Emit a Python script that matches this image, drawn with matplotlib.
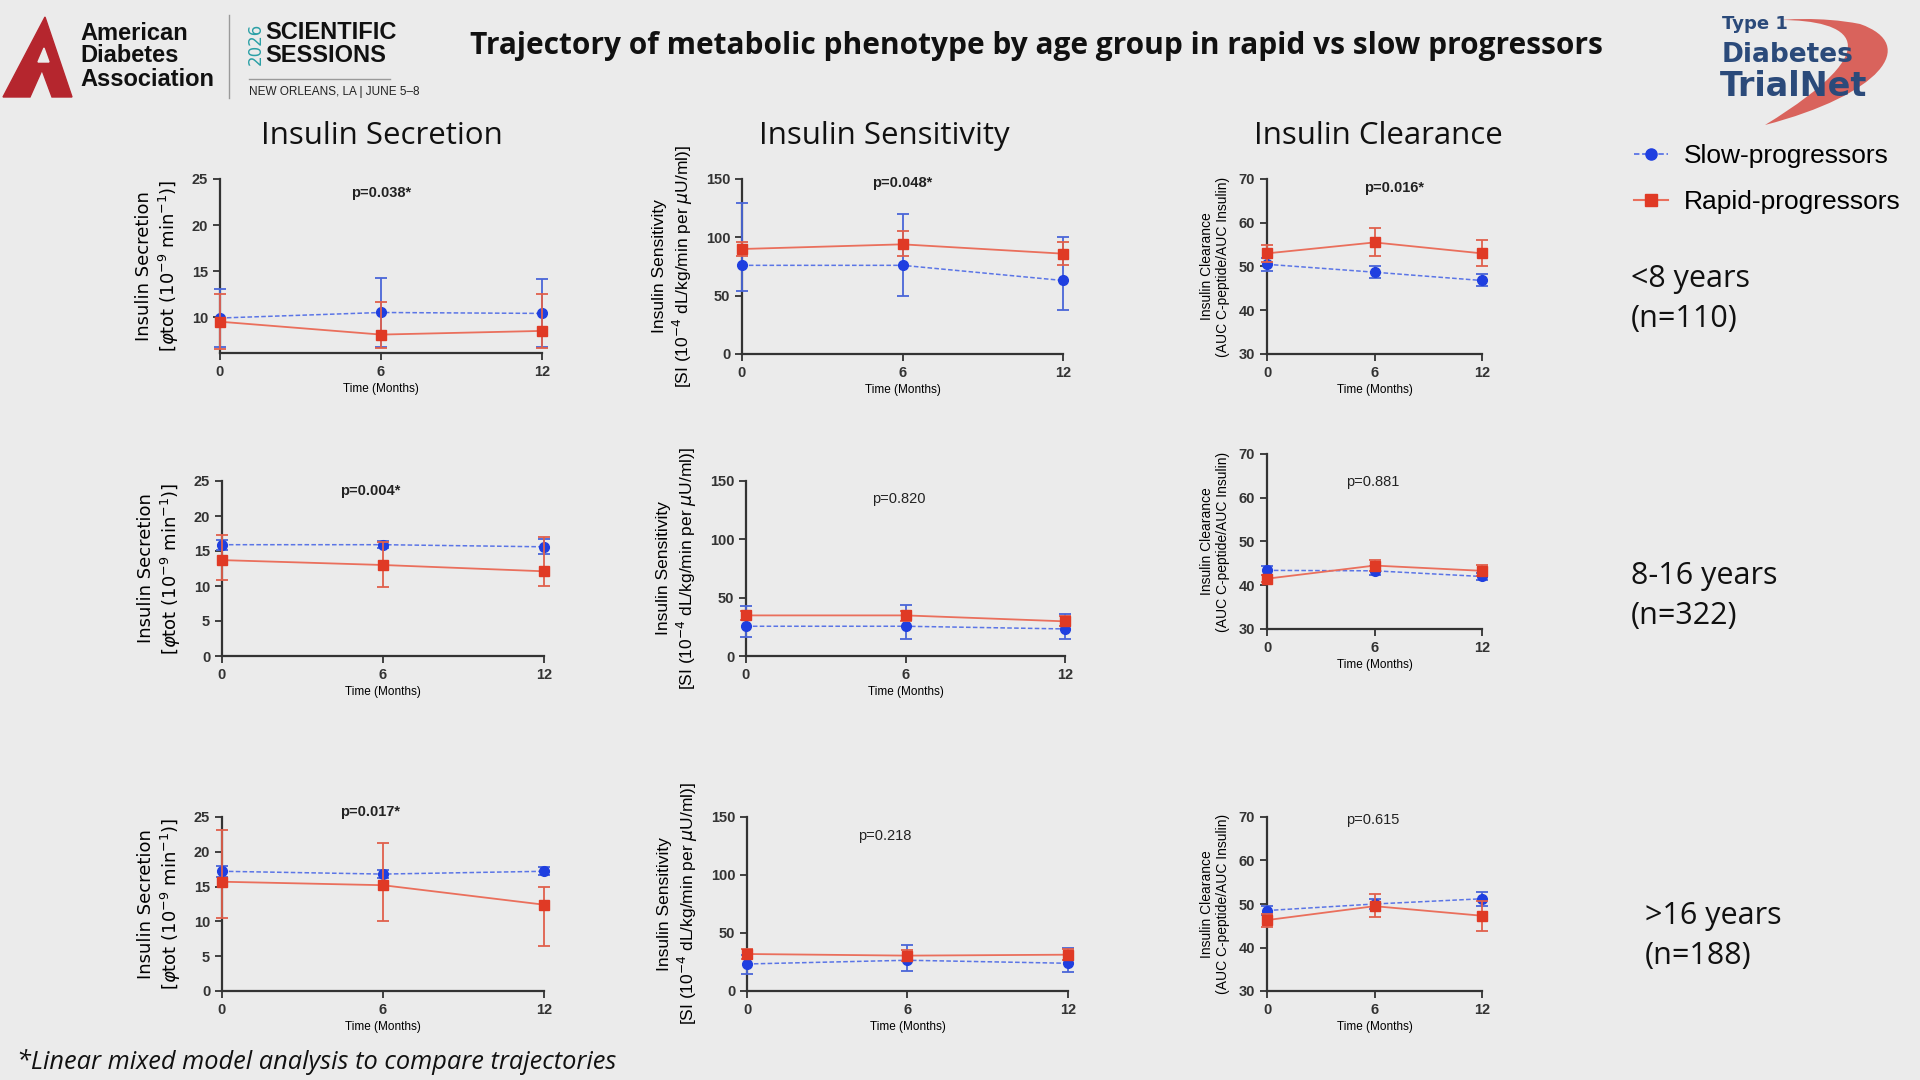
import matplotlib.pyplot as plt
from matplotlib.patches import Polygon, PathPatch
from matplotlib.path import Path
from matplotlib.lines import Line2D

# ---- data (mean, lower / upper error bar ends) ----
times = [0, 6, 12]
age_groups = ['<8 years\n(n=110)', '8-16 years\n(n=322)', '>16 years\n(n=188)']
measures = ['Insulin Secretion', 'Insulin Sensitivity', 'Insulin Clearance']

sec_slow = [[9.9, 10.5, 10.4], [15.9, 15.9, 15.6], [17.2, 16.8, 17.2]]
sec_slow_lo = [[6.8, 6.8, 6.8], [15.2, 15.4, 14.6], [16.4, 16.2, 16.6]]
sec_slow_hi = [[13.0, 14.3, 14.1], [16.6, 16.4, 16.7], [17.9, 17.4, 17.8]]
sec_rapid = [[9.5, 8.1, 8.5], [13.7, 13.0, 12.1], [15.7, 15.2, 12.4]]
sec_rapid_lo = [[6.5, 6.6, 6.6], [10.8, 9.8, 10.0], [10.5, 10.0, 6.5]]
sec_rapid_hi = [[12.5, 11.6, 12.5], [17.3, 16.3, 17.0], [23.2, 21.2, 15.0]]

sens_slow = [[76, 76, 63], [25.5, 25.5, 23.2], [23.3, 26.5, 23.9]]
sens_slow_lo = [[54, 50, 38], [16.4, 15, 15], [15, 17, 16]]
sens_slow_hi = [[129, 120, 100], [42.5, 44, 36], [31, 39.8, 37]]
sens_rapid = [[90, 94, 86], [34.8, 34.8, 29.7], [31.9, 30.5, 31.3]]
sens_rapid_lo = [[84, 84, 76], [31, 30, 26], [28, 26, 27]]
sens_rapid_hi = [[96, 105, 96], [39, 39, 34], [36, 35, 36]]

clr_slow = [[50.5, 48.7, 46.8], [43.4, 43.3, 42.0], [48.5, 50.0, 51.2]]
clr_slow_lo = [[49.0, 47.3, 45.5], [42.4, 42.3, 41.2], [47.5, 48.8, 49.6]]
clr_slow_hi = [[52.0, 50.1, 48.2], [44.4, 44.3, 42.8], [49.5, 51.2, 52.8]]
clr_rapid = [[53.0, 55.5, 53.0], [41.5, 44.5, 43.3], [46.3, 49.5, 47.3]]
clr_rapid_lo = [[51.0, 52.3, 50.0], [40.7, 43.3, 42.0], [44.8, 47.0, 43.8]]
clr_rapid_hi = [[55.0, 58.7, 56.0], [42.3, 45.7, 44.6], [47.8, 52.4, 50.8]]

pvals = [['p=0.038*', 'p=0.048*', 'p=0.016*'],
         ['p=0.004*', 'p=0.820', 'p=0.881'],
         ['p=0.017*', 'p=0.218', 'p=0.615']]

BG = '#ebebeb'
BLUE = '#1f3fe0'
RED = '#e03a25'
NARROW = ['Liberation Sans Narrow', 'Liberation Sans', 'DejaVu Sans']

fig = plt.figure(figsize=(19.2, 10.8), dpi=100, facecolor=BG)

# decoration layer in pixel coordinates
deco = fig.add_axes([0, 0, 1, 1])
deco.set_xlim(0, 1920)
deco.set_ylim(1080, 0)
deco.axis('off')

# ADA logo (approximation)
deco.add_patch(Polygon([(3, 97), (45, 17), (72, 97), (52, 97), (42, 70), (30, 97)],
                       closed=True, color='#b5262e'))
deco.add_patch(Polygon([(38, 62), (44, 48), (49, 62)], closed=True, color=BG))
deco.text(80, 56, 'American\nDiabetes\nAssociation', family=NARROW, weight='bold',
          fontsize=17, va='center', ha='left', linespacing=1.0, color='#111111')
deco.plot([229, 229], [15, 98], color='#9a9a9a', lw=1)
deco.text(256, 44, '2026', rotation=90, color='#2ba0a6', fontsize=12,
          ha='center', va='center', family='DejaVu Sans')
deco.text(265, 44, 'SCIENTIFIC\nSESSIONS', family=NARROW, weight='bold',
          fontsize=17, va='center', ha='left', linespacing=1.05, color='#111111')
deco.plot([249, 390], [79, 79], color='#9a9a9a', lw=1)
deco.text(249, 92, 'NEW ORLEANS, LA | JUNE 5\u20138', family=NARROW, fontsize=8.5,
          va='center', ha='left', color='#222222')

# TrialNet logo (approximation)
swoosh = Path([(1765, 125), (1880, 95), (1920, 45), (1860, 24),
               (1820, 16), (1780, 20), (1780, 20),
               (1850, 20), (1895, 45), (1765, 125)],
              [Path.MOVETO, Path.CURVE4, Path.CURVE4, Path.CURVE4,
               Path.CURVE4, Path.CURVE4, Path.LINETO,
               Path.CURVE4, Path.CURVE4, Path.CURVE4])
deco.add_patch(PathPatch(swoosh, facecolor='#d9635c', edgecolor='none'))
deco.text(1722, 24, 'Type 1', color='#2b4a7a', weight='bold', fontsize=13,
          va='center', ha='left', family='DejaVu Sans')
deco.text(1722, 55, 'Diabetes', color='#2b4a7a', weight='bold', fontsize=19,
          va='center', ha='left', family='DejaVu Sans')
deco.text(1720, 87, 'TrialNet', color='#2b4a7a', weight='bold', fontsize=24,
          va='center', ha='left', family='DejaVu Sans')

# titles
deco.text(1036, 46, 'Trajectory of metabolic phenotype by age group in rapid vs slow progressors',
          ha='center', va='center', fontsize=21.5, weight='bold', family='Open Sans', color='#111111')
for x, name in zip([382, 884, 1378], measures):
    deco.text(x, 136, name, ha='center', va='center', fontsize=22.5, family='Open Sans', color='#111111')

for (x, y), lab in zip([(1631, 299), (1631, 596), (1645, 936)], age_groups):
    deco.text(x, y, lab, ha='left', va='center', fontsize=22, family='Open Sans',
              linespacing=1.45, color='#111111')

deco.text(17, 1062, '*Linear mixed model analysis to compare trajectories', ha='left', va='center',
          fontsize=18.3, style='italic', family='Open Sans', color='#111111')

# ---- panels ----
boxes = [[(220, 179, 542, 353), (742, 179, 1063, 354), (1267, 179, 1482, 354)],
         [(222, 481, 544, 656), (746, 481, 1065, 656), (1267, 454, 1482, 629)],
         [(222, 817, 544, 991), (747, 817, 1068, 991), (1267, 817, 1482, 991)]]

panel_data = [
    (sec_slow, sec_slow_lo, sec_slow_hi, sec_rapid, sec_rapid_lo, sec_rapid_hi),
    (sens_slow, sens_slow_lo, sens_slow_hi, sens_rapid, sens_rapid_lo, sens_rapid_hi),
    (clr_slow, clr_slow_lo, clr_slow_hi, clr_rapid, clr_rapid_lo, clr_rapid_hi),
]
ylabels = ['Insulin Secretion\n[$\\varphi$tot (10$^{-9}$ min$^{-1}$)]',
           'Insulin Sensitivity\n[SI (10$^{-4}$ dL/kg/min per $\\mu$U/ml)]',
           'Insulin Clearance\n(AUC C-peptide/AUC Insulin)']
ylims = [(0, 25), (0, 150), (30, 70)]
yticks = [[0, 5, 10, 15, 20, 25], [0, 50, 100, 150], [30, 40, 50, 60, 70]]
ptext_pos = [[(0.5, 0.92), (0.5, 0.98), (0.59, 0.95)],
             [(0.46, 0.94), (0.48, 0.90), (0.49, 0.84)],
             [(0.46, 1.03), (0.43, 0.89), (0.49, 0.98)]]
ylab_size = [13, 12.5, 10]
ylab_pad = [8, 8, 6]

for r in range(3):
    for c in range(3):
        l, t, rr, b = boxes[r][c]
        ax = fig.add_axes([l / 1920, 1 - b / 1080, (rr - l) / 1920, (b - t) / 1080])
        ax.patch.set_alpha(0)
        s, slo, shi, q, qlo, qhi = [arr[r] for arr in panel_data[c]]
        es = [[m - lo for m, lo in zip(s, slo)], [hi - m for m, hi in zip(s, shi)]]
        eq = [[m - lo for m, lo in zip(q, qlo)], [hi - m for m, hi in zip(q, qhi)]]
        ax.errorbar(times, s, yerr=es, color='#5b75e6', ls=(0, (3, 1.5)), lw=1.1,
                    marker='o', ms=7, mfc=BLUE, mec=BLUE, ecolor='#4a66d8',
                    elinewidth=1.3, capsize=4, capthick=1.3, clip_on=False, zorder=3)
        ax.errorbar(times, q, yerr=eq, color='#ea6f5c', ls='-', lw=1.3,
                    marker='s', ms=7, mfc=RED, mec=RED, ecolor='#e0604c',
                    elinewidth=1.3, capsize=4, capthick=1.3, clip_on=False, zorder=4)
        ax.set_xlim(0, 12)
        ax.set_xticks(times)
        lo_lim, hi_lim = ylims[c]
        ticks = yticks[c]
        if r == 0 and c == 0:
            lo_lim = 6.1
            ticks = [10, 15, 20, 25]
        ax.set_ylim(lo_lim, hi_lim)
        ax.set_yticks(ticks)
        for side in ['top', 'right']:
            ax.spines[side].set_visible(False)
        for side in ['left', 'bottom']:
            ax.spines[side].set_linewidth(1.6)
            ax.spines[side].set_color('#333333')
        ax.tick_params(direction='out', length=5, width=1.3, colors='#333333', labelsize=10.5)
        for lab in ax.get_xticklabels() + ax.get_yticklabels():
            lab.set_fontweight('bold')
            lab.set_family('Liberation Sans')
        ax.set_xlabel('Time (Months)', fontsize=8.5, labelpad=3, family='Liberation Sans')
        fam = 'DejaVu Sans' if c == 0 else NARROW
        ax.set_ylabel(ylabels[c], fontsize=ylab_size[c], family=fam, labelpad=ylab_pad[c])
        px, py = ptext_pos[r][c]
        bold = pvals[r][c].endswith('*')
        ax.text(px, py, pvals[r][c], transform=ax.transAxes, ha='center', va='center',
                fontsize=10.5, weight='bold' if bold else 'normal', family=NARROW, color='#222222')

handles = [Line2D([], [], color='#5b75e6', ls=(0, (3, 1.5)), lw=1.3, marker='o', ms=8,
                  mfc=BLUE, mec=BLUE),
           Line2D([], [], color='#ea6f5c', ls='-', lw=1.5, marker='s', ms=8,
                  mfc=RED, mec=RED)]
fig.legend(handles, ['Slow-progressors', 'Rapid-progressors'], loc='upper left',
           bbox_to_anchor=(1610 / 1920, 1 - 120 / 1080), frameon=False,
           prop={'family': 'Liberation Sans', 'size': 19}, handlelength=1.3,
           labelspacing=0.85, handletextpad=0.6)

fig.savefig('out.png', dpi=100, facecolor=BG)
